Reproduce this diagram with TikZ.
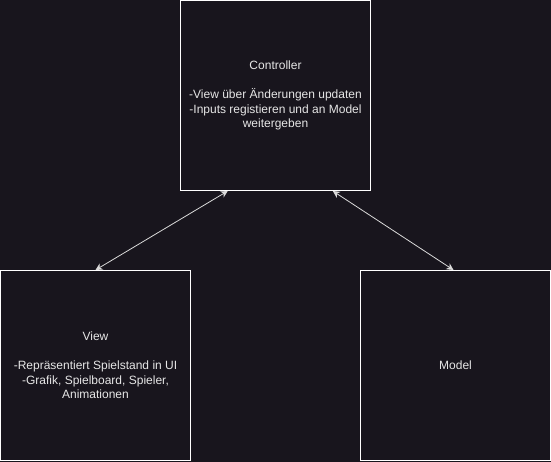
\documentclass[tikz,border=0pt]{standalone}
\usepackage{fontspec}
\setmainfont{Liberation Sans}
\usetikzlibrary{positioning,calc,arrows.meta}
\definecolor{bgdark}{HTML}{18151D}
\definecolor{textgray}{HTML}{E6E6E6}
\definecolor{linegray}{HTML}{DADADA}

\begin{document}
\begin{tikzpicture}[
  x=1pt, y=-1pt, node distance=170pt,
  box/.style={
    draw=white, fill=bgdark, line width=1pt, shape=rectangle,
    minimum width=190pt, minimum height=190pt, inner sep=2pt,
    align=center, text=textgray, font=\fontsize{12}{14.5}\selectfont
  },
  link/.style={draw=linegray, line width=.8pt, {Stealth[length=7pt,width=7pt]}-{Stealth[length=7pt,width=7pt]}}
]
  \fill[bgdark] (0,0) rectangle (551,462);
  \useasboundingbox (0,0) rectangle (551,462);

  \node[box] (ctrl) at (275.5,95.5) {Controller\\[14.5pt]-View über Änderungen updaten\\-Inputs registieren und an Model\\weitergeben};
  \node[box] (view) at (95.5,365.5) {View\\[14.5pt]-Repräsentiert Spielstand in UI\\-Grafik, Spielboard, Spieler,\\Animationen};
  \node[box] (model) at (455.5,365.5) {Model};

  % Verbindungen Controller <-> View/Model
  \coordinate (ctrl-v) at ($(ctrl.south west)!.25!(ctrl.south east)$);
  \coordinate (ctrl-m) at ($(ctrl.south west)!.8!(ctrl.south east)$);
  \path[link] (ctrl-v) -- (view.north);
  \path[link] (ctrl-m) -- ([xshift=-2pt]model.north);

\end{tikzpicture}
\end{document}
